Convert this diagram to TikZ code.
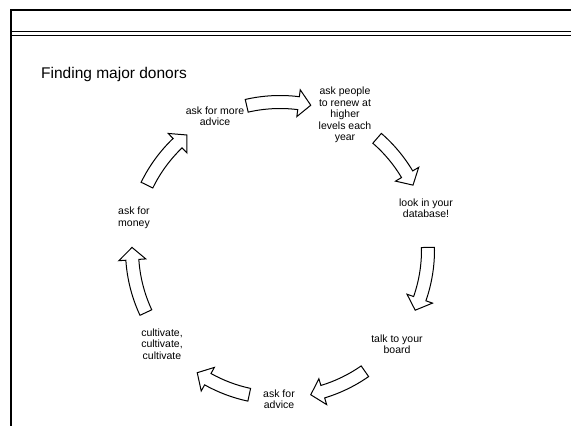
\documentclass[tikz,border=0pt]{standalone}
\usepackage{fontspec}
\setmainfont{Liberation Sans}
\usetikzlibrary{calc}
\tikzset{
  steptext/.style={align=center,font=\fontsize{10.5}{11.5}\selectfont,inner sep=1pt},
  cyclearrow/.style={draw=black,fill=white,line width=1pt,line join=miter},
  frameline/.style={black,line width=#1},
}

\begin{document}
\begin{tikzpicture}[x=1pt,y=-1pt]
  \useasboundingbox (0,0) rectangle (571,426);
  \draw[frameline=2.2pt] (11,426) -- (11,10) -- (571,10);
  \draw[frameline=0.9pt] (11,31) -- (571,31) (11,35) -- (571,35);
  \node[anchor=base west,font=\fontsize{15.5}{18}\selectfont,inner sep=0pt] (title) at (41,78) {Finding major donors};
  \coordinate (hub) at (280,250);
  \foreach \a/\b [evaluate=\b as \h using \b-4.8] in {-103/-78,-49/-26,-1/24,55/78,102/124,155/181,206/231}
    \draw[cyclearrow] ([shift={(\a:154.5)}]hub) arc[start angle=\a,end angle=\h,radius=154.5]
      -- ([shift={(\h:161.5)}]hub) -- ([shift={(\b:148)}]hub) -- ([shift={(\h:134.5)}]hub)
      -- ([shift={(\h:141.5)}]hub) arc[start angle=\h,end angle=\a,radius=141.5] -- cycle;
  \node[steptext] (renew) at (345,115) {ask people\\to renew at\\higher\\levels each\\year};
  \node[steptext] (database) at (426,208) {look in your\\database!};
  \node[steptext] (board) at (397,344) {talk to your\\board};
  \node[steptext] (advice) at (279,399) {ask for\\advice};
  \node[steptext] (cultivate) at (162,344) {cultivate,\\cultivate,\\cultivate};
  \node[steptext] (money) at (134,218) {ask for\\money};
  \node[steptext] (moreadvice) at (215,116) {ask for more\\advice};
\end{tikzpicture}
\end{document}
